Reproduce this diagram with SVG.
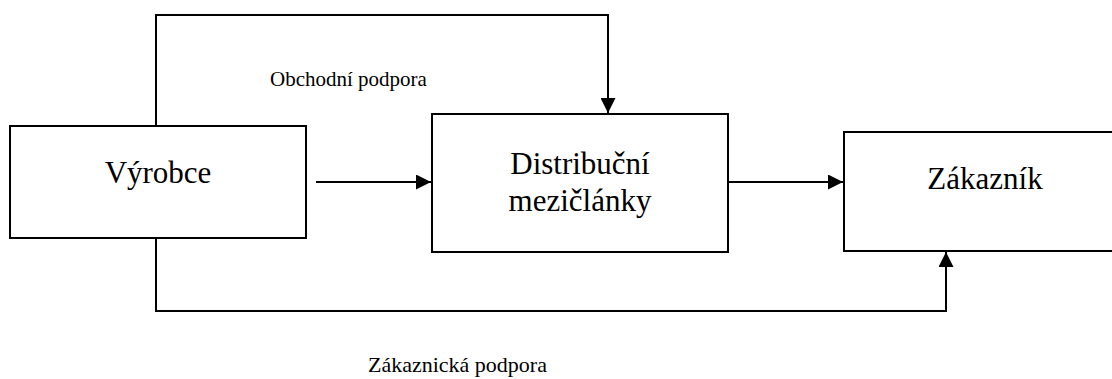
<svg xmlns="http://www.w3.org/2000/svg" width="1112" height="379" viewBox="0 0 1112 379">
<defs>
<marker id="ah" markerWidth="15" markerHeight="15" refX="15" refY="7.5" orient="auto" markerUnits="userSpaceOnUse">
<path d="M0,0 L15,7.5 L0,15 Z" fill="#000"/>
</marker>
<style>
.box{fill:#fff;stroke:#000;stroke-width:2}
.t{font-family:"Liberation Serif","Times New Roman",serif;fill:#000}
.big{font-size:31px}
.small{font-size:21px}
.c{fill:none;stroke:#000;stroke-width:2}
</style>
</defs>
<rect width="1112" height="379" fill="#fff"/>
<g id="connectors">
<path class="c" d="M156,126 V15 H608 V113" marker-end="url(#ah)"/>
<path class="c" d="M156,238 V311 H946 V252" marker-end="url(#ah)"/>
<path class="c" d="M316,182 H431" marker-end="url(#ah)"/>
<path class="c" d="M728,182 H843" marker-end="url(#ah)"/>
</g>
<g id="vyrobce">
<rect class="box" x="10" y="126" width="296" height="112"/>
<text class="t big" x="158" y="183" text-anchor="middle">Výrobce</text>
</g>
<g id="distribucni">
<rect class="box" x="432" y="114" width="296" height="138"/>
<text class="t big" x="580" y="174" text-anchor="middle">Distribuční</text>
<text class="t big" x="580" y="211" text-anchor="middle">mezičlánky</text>
</g>
<g id="zakaznik">
<rect class="box" x="844" y="132" width="282" height="119"/>
<text class="t big" x="985" y="189" text-anchor="middle">Zákazník</text>
</g>
<g id="labels">
<text class="t small" x="270" y="86">Obchodní podpora</text>
<text class="t small" x="368" y="372" style="font-size:22px">Zákaznická podpora</text>
</g>
</svg>
